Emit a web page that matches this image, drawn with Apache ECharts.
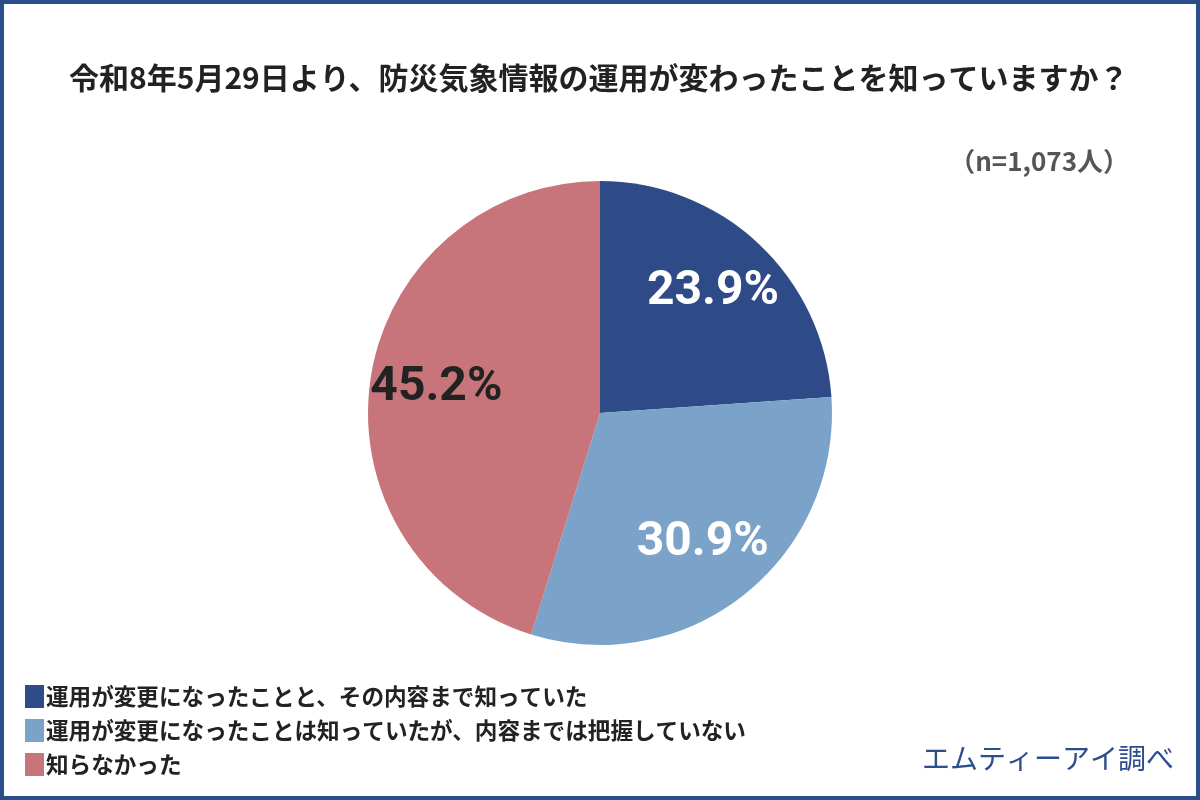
<!DOCTYPE html>
<html lang="ja">
<head>
<meta charset="utf-8">
<title>防災気象情報の運用変更の認知</title>
<script src="https://cdn.jsdelivr.net/npm/echarts@6/dist/echarts.min.js"></script>
<style>
  html, body { margin: 0; padding: 0; background: #fff; }
  #chart { width: 1200px; height: 800px; }
</style>
</head>
<body>
<div id="chart"></div>
<script>
const titleText = '令和8年5月29日より、防災気象情報の運用が変わったことを知っていますか？'
const sampleText = '（n=1,073人）'
const sourceText = 'エムティーアイ調べ'

const categories = [
  '運用が変更になったことと、その内容まで知っていた',
  '運用が変更になったことは知っていたが、内容までは把握していない',
  '知らなかった'
]
const values = [23.9, 30.9, 45.2]

const palette = ['#2e4b87', '#7ba3c9', '#c7757a']
const labelColors = ['#ffffff', '#ffffff', '#222222']

const jpFont = '"Noto Sans CJK JP", "Noto Sans", sans-serif'
const numFont = 'Roboto, "DejaVu Sans", sans-serif'

const chart = echarts.init(document.getElementById('chart'), null, { renderer: 'canvas' })

const pieData = categories.map((name, i) => ({
  name,
  value: values[i],
  itemStyle: { color: palette[i] }
}))

// transparent ring on top, so the labels sit at ~70% of the radius
const labelData = categories.map((name, i) => ({
  name,
  value: values[i],
  label: { color: labelColors[i] }
}))

chart.setOption({
  backgroundColor: '#ffffff',
  animation: false,
  title: [
    {
      text: titleText,
      left: 64,
      top: 58,
      textStyle: { fontFamily: jpFont, fontSize: 30, fontWeight: 'bold', color: '#222222' }
    },
    {
      text: sampleText,
      right: 66,
      top: 143,
      textStyle: { fontFamily: jpFont, fontSize: 26, fontWeight: 'bold', color: '#555555' }
    },
    {
      text: sourceText,
      right: 21,
      top: 739,
      textStyle: { fontFamily: jpFont, fontSize: 28, fontWeight: 'normal', color: '#2d4e8c' }
    }
  ],
  legend: {
    data: categories,
    orient: 'vertical',
    left: 20,
    top: 680,
    icon: 'rect',
    itemWidth: 19,
    itemHeight: 23,
    itemGap: 11,
    selectedMode: false,
    textStyle: { fontFamily: jpFont, fontSize: 22.6, fontWeight: 'bold', color: '#222222', padding: [0, 0, 0, -3] }
  },
  graphic: [
    {
      type: 'rect',
      shape: { x: 2, y: 2, width: 1196, height: 796 },
      style: { fill: 'none', stroke: '#2d4e8c', lineWidth: 4 },
      silent: true
    }
  ],
  series: [
    {
      type: 'pie',
      center: [600, 413],
      radius: [0, 232],
      startAngle: 90,
      clockwise: true,
      label: { show: false },
      labelLine: { show: false },
      emphasis: { disabled: true },
      itemStyle: { borderWidth: 0 },
      data: pieData
    },
    {
      type: 'pie',
      center: [600, 413],
      radius: [93, 232],
      startAngle: 90,
      clockwise: true,
      silent: true,
      emphasis: { disabled: true },
      itemStyle: { color: 'rgba(0,0,0,0)', borderWidth: 0 },
      labelLine: { show: false },
      label: {
        show: true,
        position: 'inside',
        formatter: '{c}%',
        fontFamily: numFont,
        fontSize: 48,
        fontWeight: 'bold'
      },
      data: labelData
    }
  ]
})
</script>
</body>
</html>
